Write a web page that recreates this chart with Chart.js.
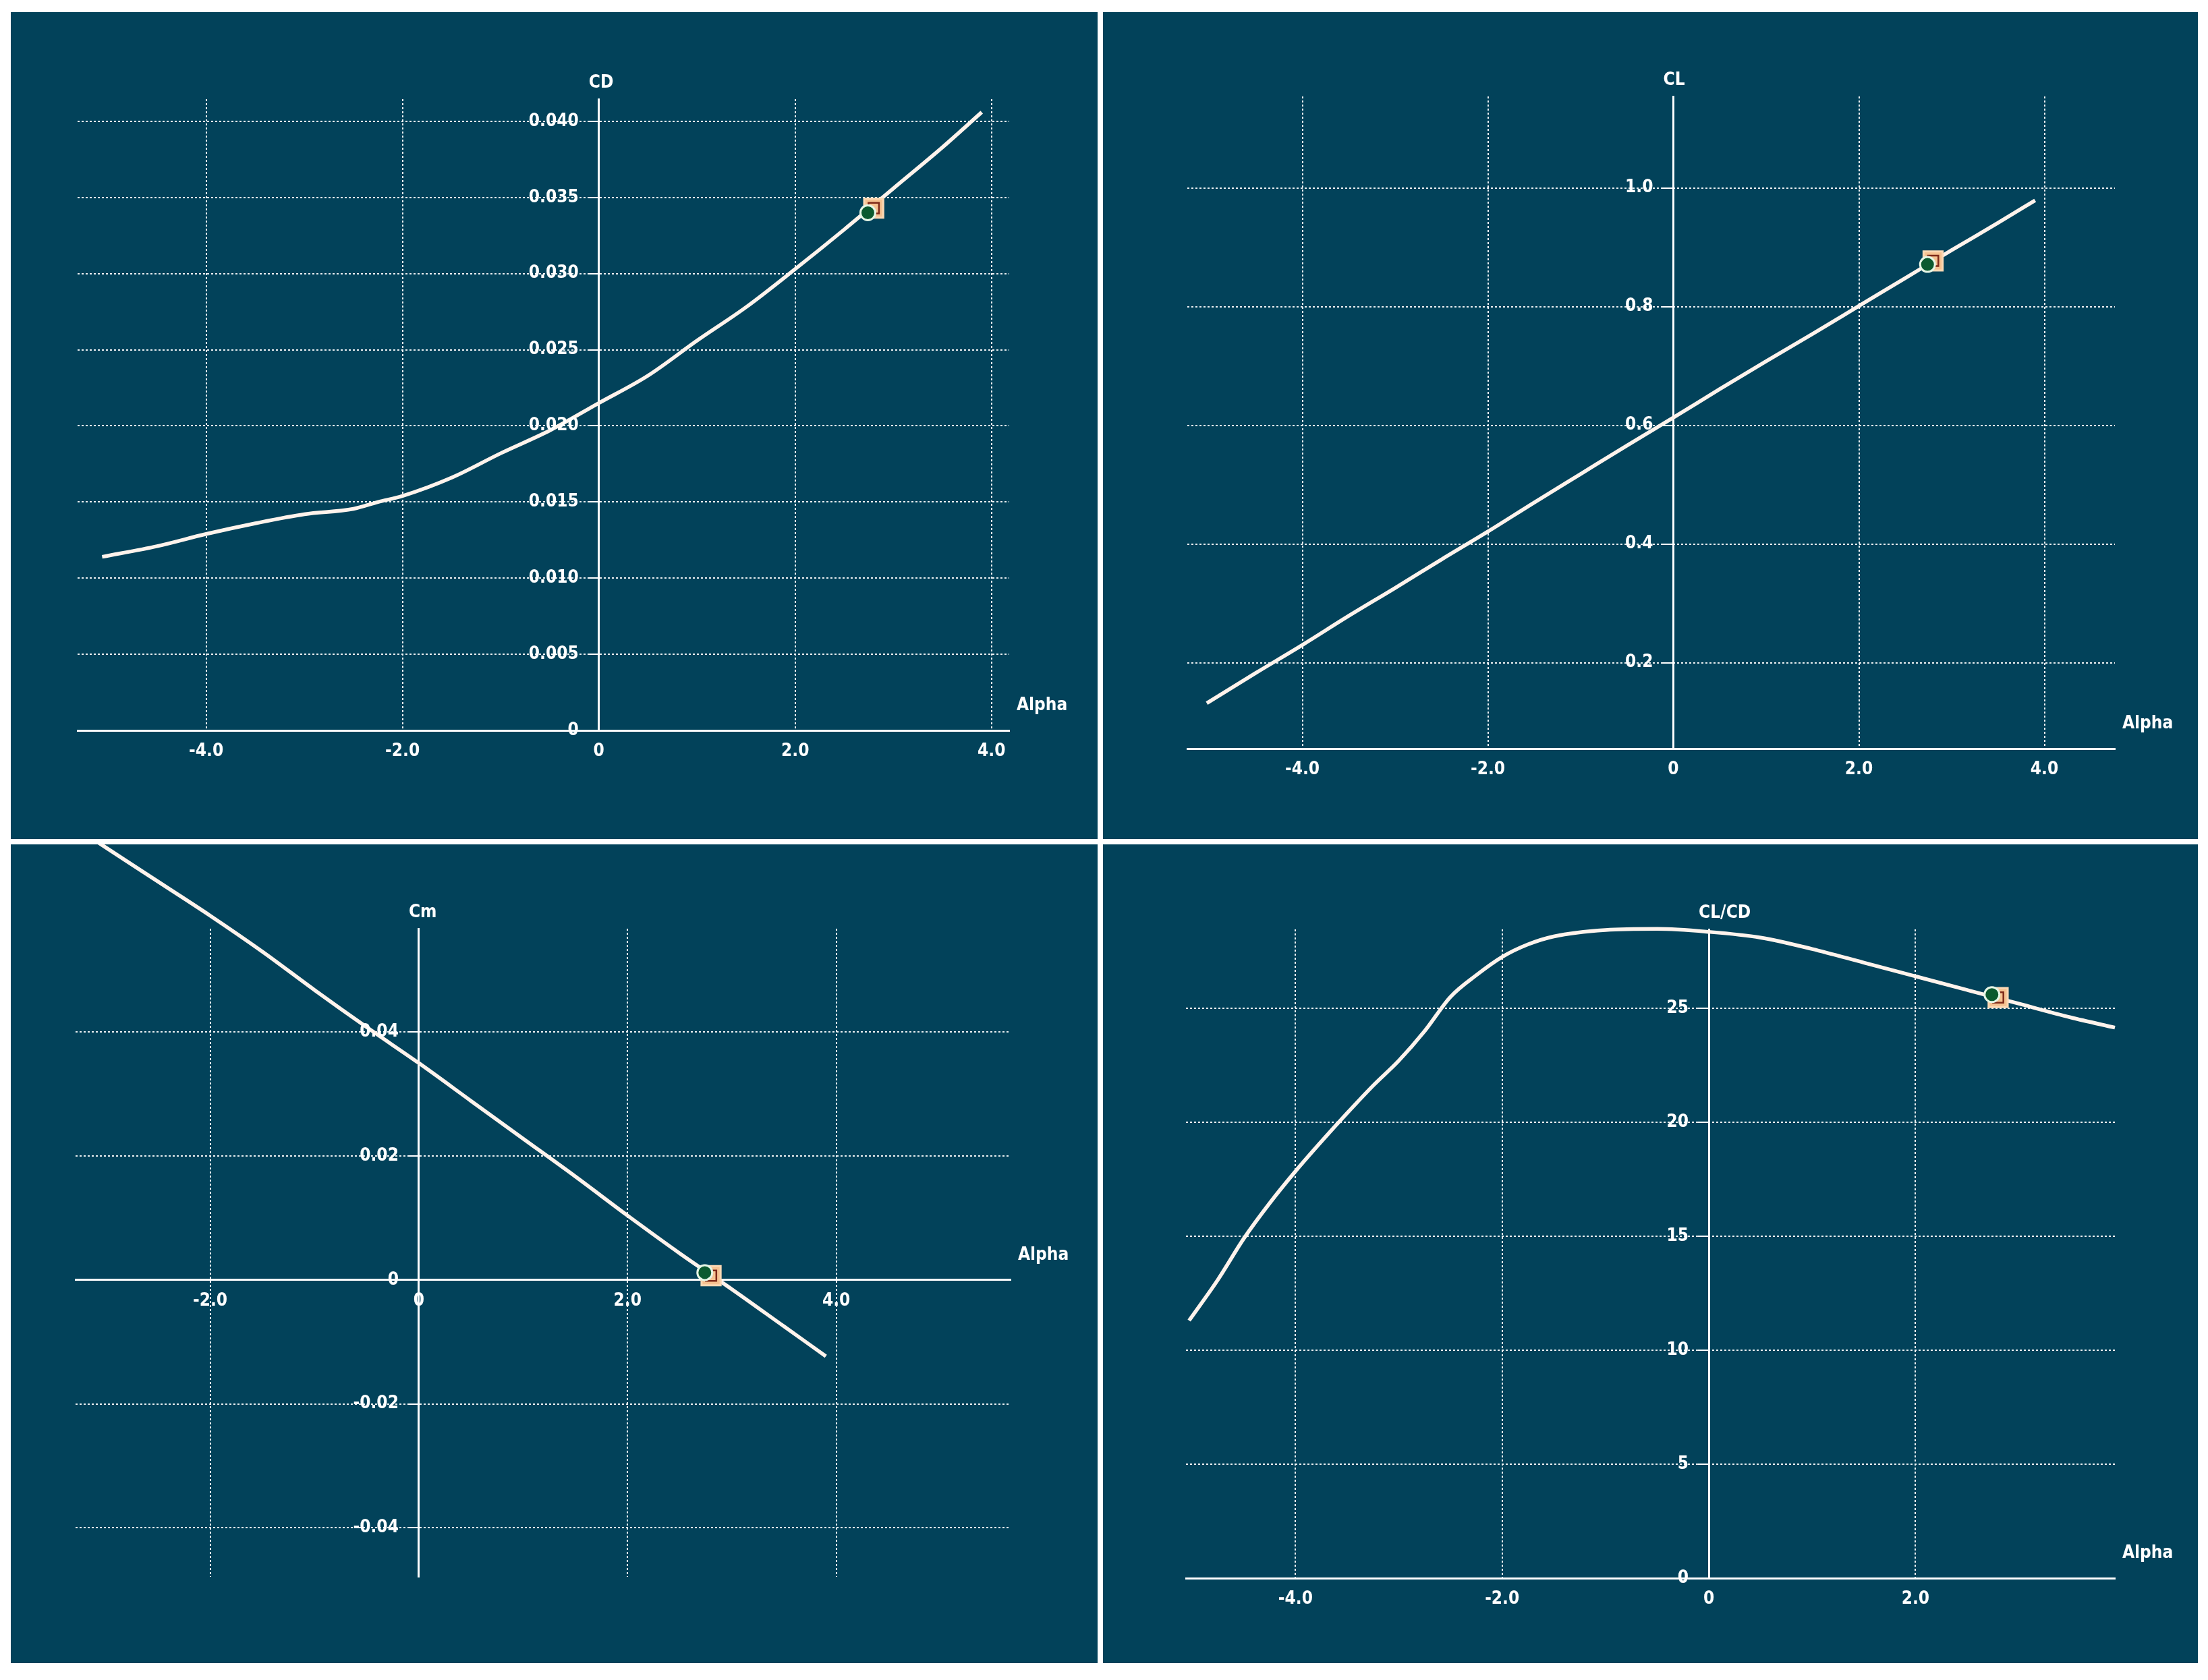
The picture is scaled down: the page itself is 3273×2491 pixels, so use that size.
<!DOCTYPE html>
<html>
<head>
<meta charset="utf-8">
<title>Polar plots</title>
<script src="https://cdn.jsdelivr.net/npm/chart.js@4.4.0/dist/chart.umd.min.js"></script>
<style>
  html, body { margin: 0; padding: 0; background: #ffffff; }
  body { width: 3273px; height: 2491px; position: relative; overflow: hidden; }
  canvas { position: absolute; background: #02425a; }
</style>
</head>
<body>
<canvas id="cdChart" width="1611" height="1226" style="left:16px;top:18px"></canvas>
<canvas id="clChart" width="1623" height="1226" style="left:1635px;top:18px"></canvas>
<canvas id="cmChart" width="1611" height="1214" style="left:16px;top:1252px"></canvas>
<canvas id="ldChart" width="1623" height="1214" style="left:1635px;top:1252px"></canvas>
<script>
// values
const cdAlpha = [-5.06, -4.5, -4.0, -3.5, -3.0, -2.5, -2.25, -2.0, -1.5, -1.0, -0.5, 0, 0.5, 1.0, 1.5, 2.0, 2.5, 3.0, 3.5, 3.9];
const cdValues = [0.0114, 0.0121, 0.0129, 0.0136, 0.0142, 0.01455, 0.0150, 0.0154, 0.0166, 0.0182, 0.0197, 0.0215, 0.0233, 0.0256, 0.0278, 0.0303, 0.0329, 0.0356, 0.0383, 0.0406];

const clAlpha = [-5.03, -4.5, -4.0, -3.5, -3.0, -2.5, -2.0, -1.5, -1.0, -0.5, 0, 0.5, 1.0, 1.5, 2.0, 2.5, 3.0, 3.5, 3.9];
const clValues = [0.132, 0.183, 0.230, 0.279, 0.326, 0.374, 0.421, 0.470, 0.518, 0.566, 0.613, 0.661, 0.708, 0.754, 0.801, 0.848, 0.895, 0.941, 0.979];

const cmAlpha = [-3.3, -3.0, -2.5, -2.0, -1.5, -1.0, -0.5, 0, 0.5, 1.0, 1.5, 2.0, 2.5, 3.0, 3.5, 3.9];
const cmValues = [0.0731, 0.0698, 0.0643, 0.0588, 0.0530, 0.0468, 0.0408, 0.0350, 0.0289, 0.0228, 0.0167, 0.0104, 0.0043, -0.0015, -0.0075, -0.0123];

const ldAlpha = [-5.03, -4.75, -4.5, -4.25, -4.0, -3.75, -3.5, -3.25, -3.0, -2.75, -2.5, -2.25, -2.0, -1.75, -1.5, -1.0, -0.5, 0, 0.5, 1.0, 1.5, 2.0, 2.5, 3.0, 3.5, 3.93];
const ldValues = [11.3, 13.1, 14.9, 16.45, 17.85, 19.15, 20.4, 21.6, 22.7, 24.0, 25.5, 26.45, 27.25, 27.8, 28.15, 28.43, 28.48, 28.35, 28.1, 27.6, 27.0, 26.4, 25.8, 25.2, 24.6, 24.15];

// operating point: [circle, square]
const markerAlpha = [2.74, 2.80];
const cdMarker = [0.0340, 0.0343];
const clMarker = [0.871, 0.877];
const cmMarker = [0.0012, 0.0007];
const ldMarker = [25.6, 25.47];

const alphaTicks = [-4, -2, 0, 2, 4];
const alphaTickLabels = ['-4.0', '-2.0', '0', '2.0', '4.0'];
const cdTicks = [0, 0.005, 0.010, 0.015, 0.020, 0.025, 0.030, 0.035, 0.040];
const cdTickLabels = ['0', '0.005', '0.010', '0.015', '0.020', '0.025', '0.030', '0.035', '0.040'];
const clTicks = [0.2, 0.4, 0.6, 0.8, 1.0];
const clTickLabels = ['0.2', '0.4', '0.6', '0.8', '1.0'];
const cmTicks = [-0.04, -0.02, 0, 0.02, 0.04];
const cmTickLabels = ['-0.04', '-0.02', '0', '0.02', '0.04'];
const ldTicks = [0, 5, 10, 15, 20, 25];
const ldTickLabels = ['0', '5', '10', '15', '20', '25'];

const curveColor = '#fff3ec';
const gridColor = 'rgba(255,255,255,0.92)';
const axisColor = '#ffffff';
const fontFamily = '"DejaVu Sans Condensed", "DejaVu Sans", sans-serif';
const labelFont = { family: fontFamily, size: 26, weight: 'bold' };
const fontString = 'bold 26px ' + fontFamily;

// y tick labels sit left of the tick marks; axis names at the ends of the axes
const axisText = {
  id: 'axisText',
  afterDraw(chart, args, opts) {
    const { ctx, chartArea, scales: { x, y } } = chart;
    const axisX = x.getPixelForValue(0);
    ctx.save();
    ctx.fillStyle = '#ffffff';
    ctx.font = fontString;
    ctx.textBaseline = 'middle';
    ctx.textAlign = 'right';
    y.ticks.forEach((t) => {
      const i = opts.yTicks.indexOf(t.value);
      ctx.fillText(opts.yLabels[i], axisX - 30, y.getPixelForValue(t.value));
    });
    ctx.textAlign = 'left';
    ctx.fillText(opts.yName, axisX - 15, chartArea.top - 24);
    ctx.fillText('Alpha', chartArea.right + 11, y.getPixelForValue(opts.xAxisAt) - 37);
    ctx.restore();
  }
};

function makeChart(id, c) {
  const xAxisAt = c.yMin > 0 ? c.yMin : 0;
  const xTicks = alphaTicks.filter(v => v >= c.xMin && v <= c.xMax);
  return new Chart(document.getElementById(id), {
    type: 'line',
    data: {
      datasets: [
        {
          data: c.alpha.map((a, i) => ({ x: a, y: c.values[i] })),
          borderColor: curveColor,
          borderWidth: 5.5,
          pointRadius: 0,
          cubicInterpolationMode: 'monotone',
          clip: false,
          order: 4,
        },
        {
          data: [{ x: markerAlpha[1], y: c.markers[1] }],
          showLine: false,
          pointStyle: 'rect',
          pointRadius: 20,
          pointBackgroundColor: '#f6c291',
          pointBorderColor: '#fbd8b4',
          pointBorderWidth: 3,
          clip: false,
          order: 3,
        },
        {
          data: [{ x: markerAlpha[1], y: c.markers[1] }],
          showLine: false,
          pointStyle: 'rect',
          pointRadius: 11,
          pointBackgroundColor: 'rgba(0,0,0,0)',
          pointBorderColor: '#7e2a19',
          pointBorderWidth: 2.5,
          clip: false,
          order: 2,
        },
        {
          data: [{ x: markerAlpha[0], y: c.markers[0] }],
          showLine: false,
          pointStyle: 'circle',
          pointRadius: 11,
          pointBackgroundColor: '#0b5a2f',
          pointBorderColor: '#e6f6e6',
          pointBorderWidth: 3,
          clip: false,
          order: 1,
        },
      ],
    },
    options: {
      responsive: false,
      animation: false,
      events: [],
      layout: { padding: c.pad },
      plugins: {
        legend: { display: false },
        tooltip: { enabled: false },
        axisText: { yName: c.yName, xAxisAt: xAxisAt, yTicks: c.yTicks, yLabels: c.yLabels },
      },
      scales: {
        x: {
          type: 'linear',
          min: c.xMin,
          max: c.xMax,
          position: { y: xAxisAt },
          afterBuildTicks: (scale) => {
            scale.ticks = xTicks.map(v => ({ value: v }));
          },
          ticks: {
            color: '#ffffff',
            font: labelFont,
            padding: 16,
            maxRotation: 0,
            autoSkip: false,
            callback: (v) => alphaTickLabels[alphaTicks.indexOf(v)],
          },
          grid: { color: gridColor, lineWidth: 2, drawTicks: false, borderDash: [3, 3] },
          border: { display: true, color: axisColor, width: 3, dash: [3, 3] },
        },
        y: {
          type: 'linear',
          min: c.yMin,
          max: c.yMax,
          position: { x: 0 },
          afterBuildTicks: (scale) => {
            scale.ticks = c.yTicks.map(v => ({ value: v }));
          },
          ticks: { display: false, autoSkip: false },
          grid: {
            color: gridColor, lineWidth: 2, borderDash: [3, 3],
            drawTicks: true, tickLength: 15, tickColor: axisColor, tickWidth: 2, tickBorderDash: [],
          },
          border: { display: true, color: axisColor, width: 3, dash: [3, 3] },
        },
      },
    },
    plugins: [axisText],
  });
}

makeChart('cdChart', {
  alpha: cdAlpha, values: cdValues, markers: cdMarker,
  yTicks: cdTicks, yLabels: cdTickLabels, yName: 'CD',
  xMin: -5.31, xMax: 4.18, yMin: 0, yMax: 0.04146,
  pad: { left: 99, right: 131, top: 129, bottom: 161 },
});

makeChart('clChart', {
  alpha: clAlpha, values: clValues, markers: clMarker,
  yTicks: clTicks, yLabels: clTickLabels, yName: 'CL',
  xMin: -5.24, xMax: 4.76, yMin: 0.0554, yMax: 1.154,
  pad: { left: 125, right: 123, top: 125, bottom: 134 },
});

makeChart('cmChart', {
  alpha: cmAlpha, values: cmValues, markers: cmMarker,
  yTicks: cmTicks, yLabels: cmTickLabels, yName: 'Cm',
  xMin: -3.29, xMax: 5.67, yMin: -0.0479, yMax: 0.0567,
  pad: { left: 96, right: 129, top: 125, bottom: 128 },
});

makeChart('ldChart', {
  alpha: ldAlpha, values: ldValues, markers: ldMarker,
  yTicks: ldTicks, yLabels: ldTickLabels, yName: 'CL/CD',
  xMin: -5.06, xMax: 3.93, yMin: 0, yMax: 28.46,
  pad: { left: 123, right: 123, top: 126, bottom: 126 },
});
</script>
</body>
</html>
